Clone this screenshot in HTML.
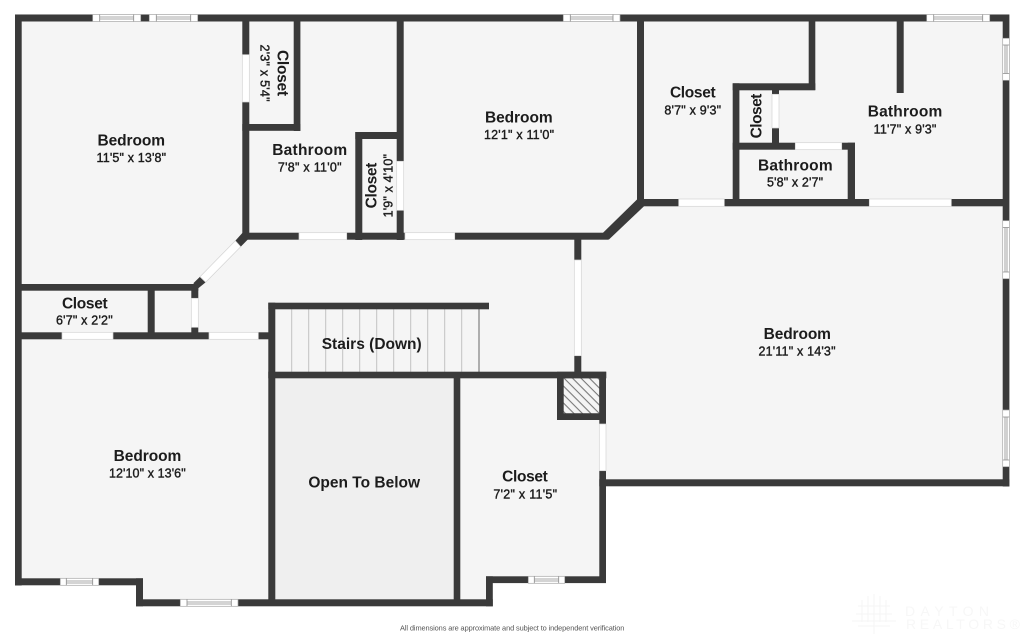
<!DOCTYPE html>
<html><head><meta charset="utf-8"><style>
html,body{margin:0;padding:0;background:#fff;width:1024px;height:635px;overflow:hidden}
svg{display:block;filter:blur(.3px)}
text{font-family:"Liberation Sans",sans-serif;fill:#1c1c1c;text-anchor:middle}
.n{font-size:15.5px;font-weight:700}
.d{font-size:12.5px;font-weight:400;stroke:#1c1c1c;stroke-width:.4px}
.w rect{fill:#fff;stroke:#a8a8a8;stroke-width:.7}
.w path{fill:none;stroke:#8c8c8c;stroke-width:.8}
.g{fill:#fff;stroke:#d4d4d4;stroke-width:.7}
</style></head><body>
<svg width="1024" height="635" viewBox="0 0 1024 635" xmlns="http://www.w3.org/2000/svg">
<defs><pattern id="h" width="6" height="6" patternUnits="userSpaceOnUse" patternTransform="rotate(45)"><rect width="6" height="6" fill="#f4f4f4"/><rect width="6" height="1.1" fill="#777"/></pattern></defs>
<rect width="1024" height="635" fill="#fff"/>
<polygon fill="#f5f5f5" points="15,14 1009,14 1009,486 606,486 606,583 492,583 492,606 136,606 136,585 15,585"/>
<rect x="275" y="378" width="179" height="222" fill="#efefef"/>
<rect x="563" y="378" width="37" height="36" fill="url(#h)"/>
<g stroke="#c2c2c2" stroke-width="1">
<path d="M291.7 309V372M308.7 309V372M325.7 309V372M342.7 309V372M359.7 309V372M376.7 309V372M393.7 309V372M410.7 309V372M427.7 309V372M444.7 309V372M461.7 309V372"/>
</g>
<path d="M479 309V372" stroke="#666" stroke-width="1"/>
<g fill="#3a3a3a">
<rect x="15" y="14.5" width="994" height="7"/>
<rect x="15" y="14.5" width="6.7" height="571"/>
<rect x="1002.7" y="14.5" width="6.7" height="472"/>
<rect x="599.3" y="479.3" width="410" height="7"/>
<rect x="599.3" y="372" width="6.7" height="211"/>
<rect x="486" y="576.3" width="120" height="6.8"/>
<rect x="486" y="576.3" width="6.8" height="30"/>
<rect x="136" y="599.3" width="356.8" height="7"/>
<rect x="136" y="578.3" width="7" height="28"/>
<rect x="15" y="578.3" width="128" height="7"/>
<rect x="242.3" y="21" width="7" height="216"/>
<rect x="293.7" y="21" width="6.7" height="110"/>
<rect x="242.3" y="124" width="58" height="6.8"/>
<rect x="396.7" y="21" width="7" height="219"/>
<rect x="355.3" y="132" width="48" height="7"/>
<rect x="355.3" y="132" width="7" height="108"/>
<rect x="245" y="232.7" width="363.3" height="7"/>
<polygon points="637,199.5 644,206.3 608.7,239.7 603,232.7"/>
<rect x="637" y="21" width="7" height="185"/>
<rect x="637" y="199" width="366" height="7.3"/>
<rect x="732.7" y="83.3" width="6.7" height="120"/>
<rect x="732.7" y="83.3" width="82.6" height="7"/>
<rect x="808.7" y="21" width="6.6" height="69"/>
<rect x="896.7" y="21" width="7" height="72"/>
<rect x="772" y="90" width="7" height="55"/>
<rect x="732.7" y="142.7" width="122.3" height="7"/>
<rect x="847.7" y="142.7" width="7.3" height="60"/>
<polygon points="235.3,240.7 242.3,233 249.3,238 240.7,246.7"/>
<polygon points="193.3,283.3 200,276.7 205.7,282.3 198.3,288.3"/>
<rect x="15" y="284" width="183.3" height="6.7"/>
<rect x="191.3" y="284" width="7" height="55"/>
<rect x="147.7" y="290" width="7" height="49"/>
<rect x="15" y="332.3" width="260" height="7"/>
<rect x="268.3" y="302.7" width="7" height="303"/>
<rect x="268.3" y="302.7" width="220.7" height="6.6"/>
<rect x="268.3" y="371.7" width="338" height="6.6"/>
<rect x="453.7" y="372" width="6.6" height="234"/>
<rect x="574.3" y="239" width="7" height="133"/>
<path fill-rule="evenodd" d="M557 371.7H606V420H557ZM563.7 378.3V413.3H599.3V378.3Z"/>
</g>
<!-- doors / openings -->
<rect class="g" x="242.3" y="54.7" width="7" height="47.3"/>
<rect class="g" x="396.7" y="161.3" width="7" height="49"/>
<rect class="g" x="299" y="232.7" width="47.7" height="7"/>
<rect class="g" x="405" y="232.7" width="49.7" height="7"/>
<rect class="g" x="678.7" y="199" width="45.6" height="7.3"/>
<rect class="g" x="869.3" y="199" width="82" height="7.3"/>
<rect class="g" x="772" y="94.3" width="7" height="33.7"/>
<rect class="g" x="795.3" y="142.7" width="46.4" height="7"/>
<rect class="g" x="191.3" y="298.3" width="7" height="29"/>
<rect class="g" x="62" y="332.3" width="51" height="7"/>
<rect class="g" x="209" y="332.3" width="49.3" height="7"/>
<rect class="g" x="574.3" y="260" width="7" height="95.7"/>
<rect class="g" x="599.3" y="424" width="6.7" height="46.7"/>
<polygon class="g" points="235.3,240.7 240.7,246.7 205.7,282.3 200,276.7"/>
<!-- windows -->
<g class="w">
<rect x="92.7" y="14.5" width="48" height="7"/><path d="M99.7 14.5V21.5M133.7 14.5V21.5M99.7 17H133.7M99.7 19H133.7"/>
<rect x="149.3" y="14.5" width="48.4" height="7"/><path d="M156.3 14.5V21.5M190.7 14.5V21.5M156.3 17H190.7M156.3 19H190.7"/>
<rect x="563.3" y="14.5" width="56.7" height="7"/><path d="M570.3 14.5V21.5M613 14.5V21.5M570.3 17H613M570.3 19H613"/>
<rect x="926.7" y="14.5" width="63" height="7"/><path d="M933.7 14.5V21.5M982.7 14.5V21.5M933.7 17H982.7M933.7 19H982.7"/>
<rect x="1002.7" y="38.3" width="6.7" height="42"/><path d="M1002.7 45H1009.4M1002.7 73.5H1009.4M1005 45V73.5M1007 45V73.5"/>
<rect x="1002.7" y="220.7" width="6.7" height="58"/><path d="M1002.7 227.5H1009.4M1002.7 272H1009.4M1005 227.5V272M1007 227.5V272"/>
<rect x="1002.7" y="410" width="6.7" height="56.7"/><path d="M1002.7 417H1009.4M1002.7 460H1009.4M1005 417V460M1007 417V460"/>
<rect x="60.3" y="578.3" width="38.4" height="7"/><path d="M66.3 578.3V585.3M92.7 578.3V585.3M66.3 581H92.7M66.3 583H92.7"/>
<rect x="180.3" y="599.3" width="57.7" height="7"/><path d="M187 599.3V606.3M231.3 599.3V606.3M187 602H231.3M187 604H231.3"/>
<rect x="528.3" y="576.3" width="36.4" height="7"/><path d="M534.3 576.3V583.3M558.7 576.3V583.3M534.3 579H558.7M534.3 581H558.7"/>
</g>
<!-- labels -->
<text class="n" x="131.3" y="145.3" textLength="67.5">Bedroom</text>
<text class="d" x="131.3" y="162" textLength="69.5">11'5" x 13'8"</text>
<g transform="translate(277.3,73) rotate(90)"><text class="n" textLength="46">Closet</text></g>
<g transform="translate(260.7,73) rotate(90)"><text class="d" textLength="57">2'3" x 5'4"</text></g>
<text class="n" x="309.7" y="155" textLength="75">Bathroom</text>
<text class="d" x="309.7" y="171.3" textLength="63.7">7'8" x 11'0"</text>
<g transform="translate(376.3,185.5) rotate(-90)"><text class="n" textLength="45.7">Closet</text></g>
<g transform="translate(392.3,185.7) rotate(-90)"><text class="d" textLength="63.3">1'9" x 4'10"</text></g>
<text class="n" x="518.8" y="122.7" textLength="67.7">Bedroom</text>
<text class="d" x="519" y="139" textLength="70">12'1" x 11'0"</text>
<text class="n" x="692.8" y="97.7" textLength="45.7">Closet</text>
<text class="d" x="692.7" y="114.3" textLength="56.7">8'7" x 9'3"</text>
<g transform="translate(761.7,116) rotate(-90)"><text class="n" textLength="44.7">Closet</text></g>
<text class="n" x="795.3" y="170.3" textLength="74.7">Bathroom</text>
<text class="d" x="795" y="186.7" textLength="56">5'8" x 2'7"</text>
<text class="n" x="905" y="116.7" textLength="74.6">Bathroom</text>
<text class="d" x="905" y="133.3" textLength="62.7">11'7" x 9'3"</text>
<text class="n" x="797.3" y="339" textLength="67.3">Bedroom</text>
<text class="d" x="797" y="355.3" textLength="77">21'11" x 14'3"</text>
<text class="n" x="84.8" y="308.3" textLength="45.7">Closet</text>
<text class="d" x="84.3" y="324.3" textLength="56.7">6'7" x 2'2"</text>
<text class="n" x="147.5" y="461" textLength="67.7">Bedroom</text>
<text class="d" x="147.3" y="477.3" textLength="76.7">12'10" x 13'6"</text>
<text class="n" x="371.7" y="349" textLength="100">Stairs (Down)</text>
<text class="n" x="364.2" y="487.7" textLength="111.7">Open To Below</text>
<text class="n" x="525" y="481.7" textLength="45.7">Closet</text>
<text class="d" x="525.2" y="498.3" textLength="63.7">7'2" x 11'5"</text>
<text x="512.2" y="630.3" font-size="7.4" textLength="224.3" style="fill:#555">All dimensions are approximate and subject to independent verification</text>
<!-- watermark -->
<g fill="none" stroke="#f6f6f6" stroke-width="1.2">
<path d="M852 621H896M858 626H890M874 594V634M862 600V622M868 596V622M880 596V622M886 600V622M858 606H890M856 614H892"/>
</g>
<text x="947" y="616" font-size="14" textLength="84" style="fill:#f7f7f7">DAYTON</text>
<text x="963" y="629" font-size="14" textLength="114" style="fill:#f7f7f7">REALTORS®</text>
</svg>
</body></html>
